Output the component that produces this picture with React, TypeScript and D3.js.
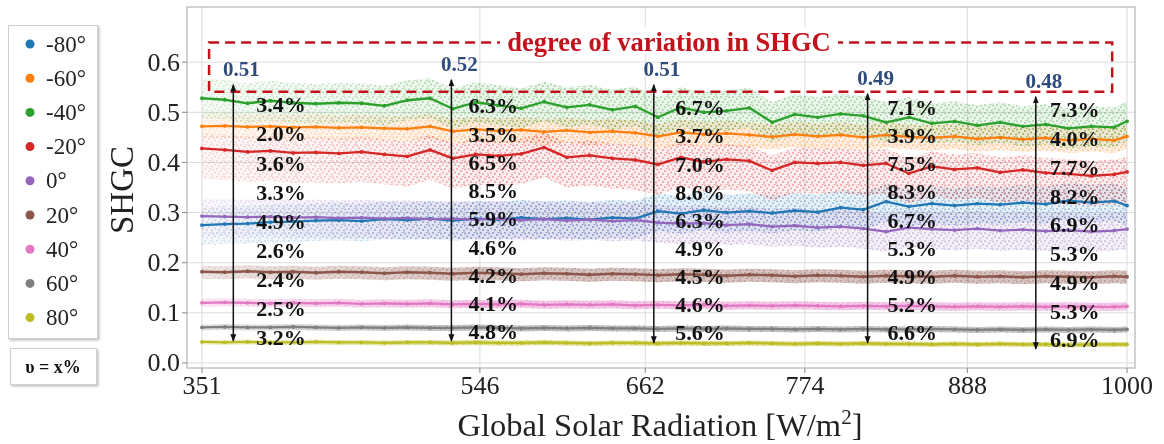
import React from 'react';
import * as d3 from 'd3';

// sampled radiation points (W/m2) where the moving-average lines were read
const radiation = [351, 367, 383, 399, 415, 431, 447, 463, 479, 495, 511, 527, 543, 559, 575, 591, 607, 623, 639, 655, 671, 687, 703, 719, 735, 751, 767, 783, 799, 815, 831, 847, 863, 879, 895, 911, 927, 943, 959, 975, 991, 1000];

const angles = ['-80°', '-60°', '-40°', '-20°', '0°', '20°', '40°', '60°', '80°'];

const shgcM80 = [0.275, 0.277, 0.278, 0.281, 0.282, 0.284, 0.285, 0.283, 0.287, 0.285, 0.288, 0.284, 0.288, 0.286, 0.29, 0.287, 0.289, 0.286, 0.29, 0.288, 0.303, 0.298, 0.305, 0.3, 0.303, 0.299, 0.304, 0.301, 0.31, 0.306, 0.322, 0.312, 0.318, 0.314, 0.318, 0.316, 0.32, 0.317, 0.324, 0.32, 0.323, 0.314];
const shgcM60 = [0.472, 0.473, 0.471, 0.472, 0.47, 0.471, 0.469, 0.47, 0.468, 0.467, 0.472, 0.462, 0.466, 0.463, 0.465, 0.461, 0.464, 0.46, 0.462, 0.459, 0.452, 0.46, 0.456, 0.458, 0.455, 0.451, 0.456, 0.452, 0.455, 0.45, 0.455, 0.451, 0.449, 0.452, 0.447, 0.45, 0.446, 0.449, 0.444, 0.447, 0.444, 0.452];
const shgcM40 = [0.528, 0.525, 0.518, 0.523, 0.519, 0.517, 0.519, 0.518, 0.513, 0.524, 0.528, 0.507, 0.52, 0.514, 0.508, 0.521, 0.51, 0.515, 0.505, 0.512, 0.49, 0.51, 0.5, 0.503, 0.509, 0.48, 0.496, 0.49, 0.497, 0.493, 0.48, 0.49, 0.478, 0.482, 0.474, 0.48, 0.472, 0.476, 0.468, 0.472, 0.47, 0.482];
const shgcM20 = [0.428, 0.425, 0.421, 0.423, 0.419, 0.42, 0.418, 0.421, 0.416, 0.412, 0.425, 0.408, 0.416, 0.413, 0.417, 0.43, 0.41, 0.414, 0.408, 0.405, 0.396, 0.41, 0.401, 0.406, 0.403, 0.384, 0.4, 0.398, 0.4, 0.394, 0.398, 0.378, 0.392, 0.386, 0.389, 0.38, 0.385, 0.379, 0.377, 0.373, 0.376, 0.381];
const shgc0 = [0.293, 0.292, 0.291, 0.292, 0.29, 0.291, 0.289, 0.29, 0.288, 0.289, 0.287, 0.288, 0.286, 0.288, 0.285, 0.287, 0.284, 0.286, 0.283, 0.285, 0.28, 0.278, 0.279, 0.275, 0.277, 0.272, 0.274, 0.27, 0.272, 0.268, 0.262, 0.27, 0.267, 0.265, 0.268, 0.264, 0.266, 0.263, 0.265, 0.262, 0.264, 0.267];
const shgc20 = [0.182, 0.181, 0.183, 0.181, 0.182, 0.18, 0.182, 0.181, 0.179, 0.181, 0.18, 0.178, 0.18, 0.179, 0.177, 0.179, 0.178, 0.176, 0.178, 0.177, 0.175, 0.177, 0.176, 0.174, 0.176, 0.175, 0.173, 0.175, 0.174, 0.172, 0.174, 0.173, 0.172, 0.174, 0.172, 0.173, 0.171, 0.173, 0.172, 0.171, 0.173, 0.172];
const shgc40 = [0.12, 0.121, 0.12, 0.119, 0.12, 0.119, 0.12, 0.118, 0.119, 0.118, 0.119, 0.117, 0.118, 0.117, 0.118, 0.116, 0.117, 0.116, 0.117, 0.115, 0.116, 0.115, 0.116, 0.114, 0.115, 0.114, 0.115, 0.114, 0.113, 0.114, 0.113, 0.114, 0.113, 0.112, 0.113, 0.112, 0.113, 0.112, 0.113, 0.112, 0.112, 0.113];
const shgc60 = [0.071, 0.072, 0.071, 0.071, 0.072, 0.071, 0.07, 0.071, 0.07, 0.071, 0.07, 0.07, 0.071, 0.07, 0.069, 0.07, 0.069, 0.07, 0.069, 0.069, 0.068, 0.069, 0.068, 0.069, 0.068, 0.068, 0.067, 0.068, 0.067, 0.068, 0.067, 0.067, 0.068, 0.067, 0.066, 0.067, 0.066, 0.067, 0.066, 0.067, 0.066, 0.067];
const shgc80 = [0.042, 0.041, 0.042, 0.041, 0.041, 0.042, 0.041, 0.041, 0.04, 0.041, 0.041, 0.04, 0.041, 0.04, 0.04, 0.041, 0.04, 0.039, 0.04, 0.04, 0.039, 0.04, 0.039, 0.039, 0.04, 0.039, 0.038, 0.039, 0.038, 0.039, 0.038, 0.038, 0.037, 0.038, 0.037, 0.038, 0.037, 0.037, 0.036, 0.037, 0.037, 0.037];

// how far the raw scatter spreads above / below each line
const spreadUp = [0.035, 0.025, 0.04, 0.03, 0.035, 0.012, 0.008, 0.006, 0.005];
const spreadDown = [0.04, 0.025, 0.04, 0.06, 0.04, 0.014, 0.008, 0.006, 0.005];

const xTicks = [351, 546, 662, 774, 888, 1000];
const yTicks = [0, 0.1, 0.2, 0.3, 0.4, 0.5, 0.6];

// variation arrows
const arrowAt = [373, 526, 668, 818, 936];
const arrowTop = [0.555, 0.565, 0.555, 0.537, 0.531];
const arrowBottom = [0.044, 0.044, 0.04, 0.04, 0.028];
const rangeLabels = ['0.51', '0.52', '0.51', '0.49', '0.48'];
const labelAt = [389, 538, 683, 832, 946];
const labelTop = [0.515, 0.513, 0.509, 0.51, 0.505];
const labelBottom = [0.05, 0.062, 0.06, 0.06, 0.046];
const variation = [
  ['3.4%', '2.0%', '3.6%', '3.3%', '4.9%', '2.6%', '2.4%', '2.5%', '3.2%'],
  ['6.3%', '3.5%', '6.5%', '8.5%', '5.9%', '4.6%', '4.2%', '4.1%', '4.8%'],
  ['6.7%', '3.7%', '7.0%', '8.6%', '6.3%', '4.9%', '4.5%', '4.6%', '5.6%'],
  ['7.1%', '3.9%', '7.5%', '8.3%', '6.7%', '5.3%', '4.9%', '5.2%', '6.6%'],
  ['7.3%', '4.0%', '7.7%', '8.2%', '6.9%', '5.3%', '4.9%', '5.3%', '6.9%'],
];

const series = [shgcM80, shgcM60, shgcM40, shgcM20, shgc0, shgc20, shgc40, shgc60, shgc80];
const colors = ['#1f77b4', '#ff7f0e', '#2ca02c', '#d62728', '#9467bd', '#8c564b', '#e377c2', '#7f7f7f', '#bcbd22'];
const bandOpacity = [0.1, 0.12, 0.09, 0.08, 0.1, 0.35, 0.4, 0.45, 0.45];

const W = 1164;
const H = 444;
const serif = "Liberation Serif, Times New Roman, serif";

export default function App() {
  const x = d3.scaleLinear().domain([340.5, 1005.6]).range([187, 1135]);
  const y = d3.scaleLinear().domain([-0.01, 0.71]).range([368, 7]);
  const [x0, x1] = x.range();
  const [y0, y1] = y.range();

  const line = d3.line<number>().x((d, i) => x(radiation[i])).y(d => y(d));

  const band = (k: number) =>
    d3.area<number>()
      .x((d, i) => x(radiation[i]))
      .y0(d => y(d - spreadDown[k]))
      .y1(d => y(d + spreadUp[k]))(series[k]) as string;

  const dotSpots = [[1, 1], [5, 3], [9, 1.5], [3, 6], [8, 6.5], [11, 4.5], [6.5, 0.2]];

  return (
    <svg width={W} height={H} style={{ position: 'absolute', left: 0, top: 0, background: '#fff' }} fontFamily={serif}>
      <defs>
        {colors.map((c, i) => (
          <pattern key={c} id={`dots${i}`} width={12} height={8} patternUnits="userSpaceOnUse">
            {dotSpots.map(([px, py], j) => (
              <circle key={j} cx={px} cy={py} r={0.9} fill={c} opacity={0.75} />
            ))}
          </pattern>
        ))}
        <linearGradient id="fadeLeft" gradientUnits="userSpaceOnUse" x1={x(351)} x2={x(546)} y1={0} y2={0}>
          <stop offset="0" stopColor="#fff" stopOpacity={0.45} />
          <stop offset="1" stopColor="#fff" stopOpacity={1} />
        </linearGradient>
        <mask id="bandMask" maskUnits="userSpaceOnUse" x={0} y={0} width={W} height={H}>
          <rect x={0} y={0} width={W} height={H} fill="url(#fadeLeft)" />
        </mask>
        <marker id="arrowHead" viewBox="0 0 10 10" refX={9} refY={5} markerWidth={5} markerHeight={5} orient="auto-start-reverse">
          <path d="M0,1 L10,5 L0,9 Z" fill="#111" />
        </marker>
        <filter id="shadow" x="-10%" y="-10%" width="130%" height="130%">
          <feDropShadow dx={1.5} dy={1.5} stdDeviation={1.2} floodColor="#000" floodOpacity={0.25} />
        </filter>
      </defs>

      {/* grid */}
      <g stroke="#dcdcdc" strokeWidth={1}>
        {xTicks.map(t => <line key={`gx${t}`} x1={x(t)} x2={x(t)} y1={y1} y2={y0} />)}
        {yTicks.map(t => <line key={`gy${t}`} x1={x0} x2={x1} y1={y(t)} y2={y(t)} />)}
      </g>

      {/* scatter clouds */}
      <g mask="url(#bandMask)">
        {series.map((s, k) => (
          <g key={`band${k}`}>
            <path d={band(k)} fill={colors[k]} opacity={bandOpacity[k]} />
            <path d={band(k)} fill={`url(#dots${k})`} opacity={0.6} />
          </g>
        ))}
      </g>

      {/* moving average lines */}
      {series.map((s, k) => (
        <g key={`line${k}`}>
          <path d={line(s) as string} fill="none" stroke={colors[k]} strokeWidth={2.3} strokeLinejoin="round" />
          {s.map((v, i) => (
            <circle key={i} cx={x(radiation[i])} cy={y(v)} r={1.9} fill={colors[k]} />
          ))}
        </g>
      ))}

      {/* frame */}
      <rect x={x0} y={y1} width={x1 - x0} height={y0 - y1} fill="none" stroke="#b5b5b5" strokeWidth={1.2} />

      {/* axes */}
      <g fontSize={26} fill="#222">
        {yTicks.map(t => (
          <g key={`yt${t}`}>
            <line x1={x0 - 5} x2={x0} y1={y(t)} y2={y(t)} stroke="#888" />
            <text x={x0 - 7} y={y(t)} textAnchor="end" dominantBaseline="central">{t.toFixed(1)}</text>
          </g>
        ))}
        {xTicks.map(t => (
          <g key={`xt${t}`}>
            <line x1={x(t)} x2={x(t)} y1={y0} y2={y0 + 5} stroke="#888" />
            <text x={x(t)} y={394} textAnchor="middle">{t}</text>
          </g>
        ))}
      </g>
      <text x={660} y={436} textAnchor="middle" fontSize={32.5} fill="#222">
        Global Solar Radiation [W/m<tspan dy={-12} fontSize={21}>2</tspan><tspan dy={12}>]</tspan>
      </text>
      <text transform={`translate(133, 190) rotate(-90)`} textAnchor="middle" fontSize={33} fill="#222">SHGC</text>

      {/* red dashed box */}
      <rect x={x(356)} y={y(0.639)} width={x(989.6) - x(356)} height={y(0.541) - y(0.639)}
        fill="none" stroke="#c4121c" strokeWidth={2.5} strokeDasharray="10 6" />
      <rect x={500} y={27} width={338} height={28} fill="#fff" />
      <text x={669} y={y(0.639) - 1} textAnchor="middle" dominantBaseline="central" fontSize={26.5} fontWeight="bold" fill="#c4121c">
        degree of variation in SHGC
      </text>

      {/* arrows and labels */}
      {arrowAt.map((a, j) => {
        const top = y(arrowTop[j]);
        const bottom = y(arrowBottom[j]);
        const ly = d3.scaleLinear().domain([0, variation[j].length - 1]).range([y(labelTop[j]), y(labelBottom[j])]);
        return (
          <g key={`arr${j}`}>
            <line x1={x(a)} x2={x(a)} y1={bottom} y2={top} stroke="#111" strokeWidth={1.5}
              markerStart="url(#arrowHead)" markerEnd="url(#arrowHead)" />
            <text x={x(a) + 8} y={top - 16} textAnchor="middle" dominantBaseline="central" fontSize={21} fontWeight="bold" fill="#2f4b7c">
              {rangeLabels[j]}
            </text>
            {variation[j].map((v, i) => (
              <text key={i} x={x(labelAt[j])} y={ly(i)} dominantBaseline="central" fontSize={22} fontWeight="bold" fill="#111">{v}</text>
            ))}
          </g>
        );
      })}

      {/* legend */}
      <rect x={8.5} y={25.5} width={89} height={313} fill="#fff" stroke="#cfcfcf" filter="url(#shadow)" />
      {angles.map((a, i) => (
        <g key={a} transform={`translate(0, ${44 + i * 34.2})`}>
          <circle cx={30} cy={0} r={4.5} fill={colors[i]} />
          <text x={46} y={0} dominantBaseline="central" fontSize={23} fill="#222">{a}</text>
        </g>
      ))}
      <rect x={10.5} y={348.5} width={86} height={36} fill="#fff" stroke="#cfcfcf" filter="url(#shadow)" />
      <text x={53} y={367} textAnchor="middle" dominantBaseline="central" fontSize={18} fontWeight="bold" fill="#111">υ = x%</text>
    </svg>
  );
}
